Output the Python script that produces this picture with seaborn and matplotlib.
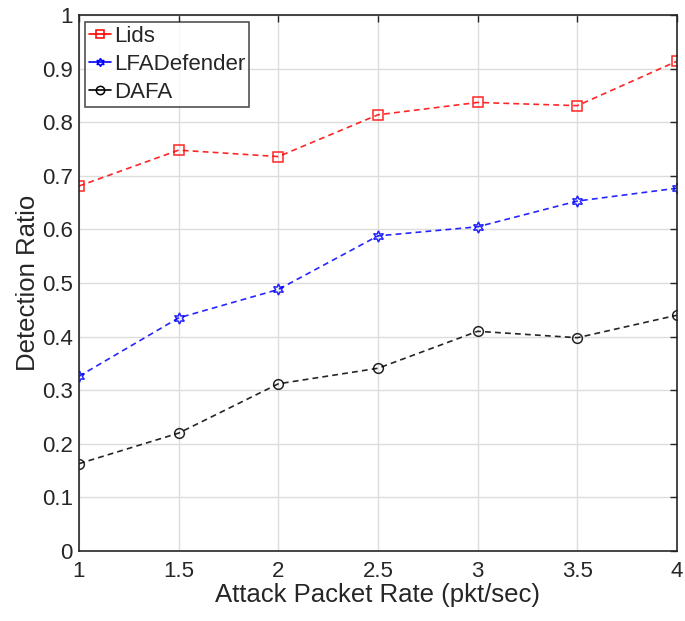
import matplotlib
matplotlib.use("Agg")
import matplotlib.pyplot as plt
import seaborn as sns
import pandas as pd

rates = [1, 1.5, 2, 2.5, 3, 3.5, 4]
lids = [0.681, 0.748, 0.736, 0.814, 0.837, 0.831, 0.914]
lfadefender = [0.326, 0.435, 0.488, 0.588, 0.605, 0.653, 0.677]
dafa = [0.163, 0.220, 0.312, 0.341, 0.410, 0.398, 0.440]
series_names = ["Lids", "LFADefender", "DAFA"]
x_ticks = [1, 1.5, 2, 2.5, 3, 3.5, 4]
x_tick_labels = ["1", "1.5", "2", "2.5", "3", "3.5", "4"]
y_ticks = [0, 0.1, 0.2, 0.3, 0.4, 0.5, 0.6, 0.7, 0.8, 0.9, 1.0]
y_tick_labels = ["0", "0.1", "0.2", "0.3", "0.4", "0.5", "0.6", "0.7", "0.8", "0.9", "1"]

sns.set_style("white")
plt.rcParams["font.family"] = ["Liberation Sans", "DejaVu Sans"]

df = pd.DataFrame({
    "rate": rates * 3,
    "ratio": lids + lfadefender + dafa,
    "method": [series_names[0]] * 7 + [series_names[1]] * 7 + [series_names[2]] * 7,
})

fig = plt.figure(figsize=(6.85, 6.21), dpi=100)
ax = fig.add_axes([0.1153, 0.1127, 0.873, 0.863])

colors = {"Lids": "#ff0000", "LFADefender": "#0000ff", "DAFA": "#000000"}
markers = {"Lids": "s", "LFADefender": (6, 1, 0), "DAFA": "o"}
sizes = {"Lids": 6.5, "LFADefender": 8, "DAFA": 7}

for name in series_names:
    sub = df[df["method"] == name]
    sns.lineplot(data=sub, x="rate", y="ratio", ax=ax, color=colors[name],
                 linestyle=(0, (3.5, 2.5)), linewidth=1.2, marker=markers[name],
                 markersize=sizes[name], markerfacecolor="none",
                 markeredgecolor=colors[name], markeredgewidth=1.1,
                 label=name, alpha=0.85)

ax.set_xlim(1, 4)
ax.set_ylim(0, 1)
ax.set_xticks(x_ticks)
ax.set_xticklabels(x_tick_labels)
ax.set_yticks(y_ticks)
ax.set_yticklabels(y_tick_labels)
ax.grid(True, color="#dcdcdc", linewidth=1.0)
ax.set_axisbelow(True)
ax.tick_params(direction="in", length=5, width=1.0, top=True, right=True,
               labelsize=16, colors="#262626")
ax.tick_params(axis="x", pad=7)
ax.tick_params(axis="y", pad=4.5)
for s in ax.spines.values():
    s.set_color("#262626")
    s.set_linewidth(1.2)
    s.set_visible(True)

ax.set_xlabel("Attack Packet Rate (pkt/sec)", fontsize=18.5, color="#262626", labelpad=1)
ax.set_ylabel("Detection Ratio", fontsize=18.5, color="#262626", labelpad=1)

leg = ax.legend(loc="upper left", fontsize=16, handlelength=1.0, handletextpad=0.13,
                borderpad=0.18, labelspacing=0.32, fancybox=False, frameon=True,
                bbox_to_anchor=(0.01, 0.9875), borderaxespad=0.0)
leg.get_frame().set_edgecolor("#262626")
leg.get_frame().set_linewidth(1.2)
for h in leg.legend_handles:
    h.set_linestyle("-")
    h.set_alpha(1)
    h.set_markersize(6)
for t in leg.get_texts():
    t.set_color("#262626")

fig.savefig("out.png", dpi=100)
